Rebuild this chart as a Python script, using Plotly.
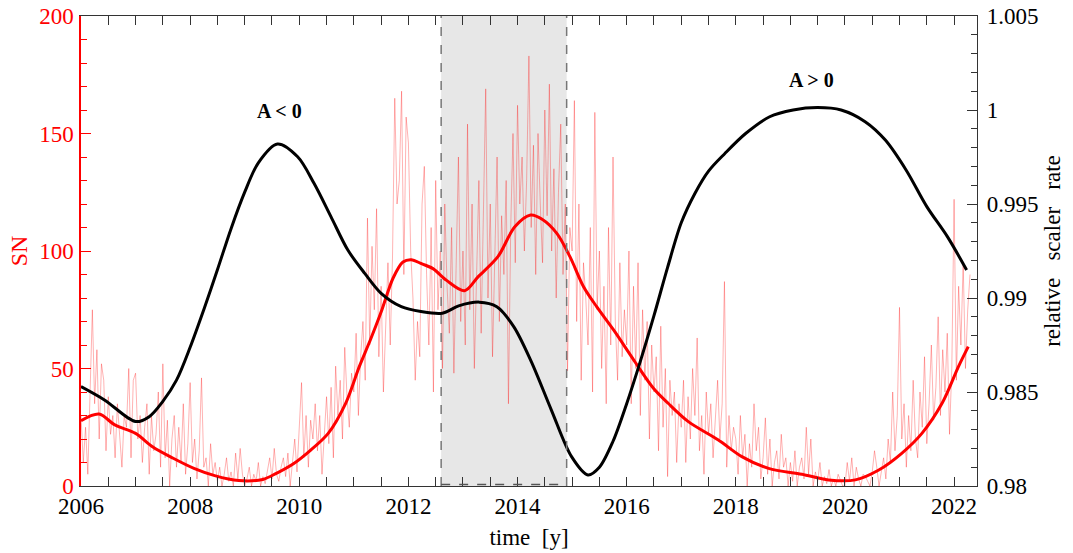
import plotly.graph_objects as go

# ---------------- data ----------------
# noisy sunspot number, 24 samples per year starting at each year's start
sn_2006 = [30, 10, 25, 5, 40, 75, 35, 58, 20, 52, 45, 15, 38, 22, 30, 12, 35, 20, 8, 30, 25, 50, 12, 45]
sn_2007 = [48, 20, 30, 10, 25, 35, 5, 30, 15, 22, 40, 8, 52, 12, 28, 0, 20, 30, 8, 25, 10, 35, 5, 18]
sn_2008 = [44, 10, 20, 3, 15, 46, 8, 12, 0, 18, 5, 10, 2, 8, 0, 5, 12, 2, 6, 0, 14, 3, 16, 5]
sn_2009 = [0, 3, 8, 0, 5, 2, 10, 0, 4, 1, 6, 12, 3, 16, 5, 2, 8, 12, 4, 14, 0, 9, 20, 6]
sn_2010 = [25, 44, 12, 30, 8, 28, 20, 35, 15, 30, 5, 22, 38, 18, 42, 12, 51, 30, 45, 20, 59, 38, 25, 48]
sn_2011 = [40, 65, 30, 55, 70, 45, 114, 60, 102, 75, 118, 55, 85, 40, 70, 95, 60, 97, 165, 120, 130, 168, 90, 157]
sn_2012 = [146, 100, 80, 45, 70, 55, 120, 136, 90, 60, 110, 40, 130, 75, 100, 50, 120, 85, 65, 110, 48, 95, 140, 70]
sn_2013 = [100, 60, 154, 75, 120, 50, 90, 130, 65, 110, 169, 80, 120, 55, 100, 140, 70, 115, 90, 130, 35, 110, 150, 95]
sn_2014 = [162, 120, 140, 100, 130, 183, 110, 145, 90, 150, 120, 95, 160, 115, 171, 100, 135, 80, 125, 154, 90, 120, 49, 110]
sn_2015 = [100, 164, 70, 120, 45, 95, 80, 60, 110, 40, 159, 75, 100, 50, 85, 35, 110, 60, 140, 70, 45, 95, 55, 75]
sn_2016 = [60, 100, 35, 85, 50, 95, 30, 75, 45, 70, 20, 60, 40, 55, 15, 68, 25, 50, 4, 45, 30, 40, 10, 35]
sn_2017 = [25, 45, 10, 38, 20, 50, 30, 63, 15, 30, 5, 40, 22, 35, 12, 28, 45, 20, 35, 87, 8, 30, 15, 25]
sn_2018 = [20, 5, 30, 12, 22, 0, 18, 8, 35, 15, 25, 3, 12, 29, 5, 20, 0, 10, 15, 3, 22, 8, 12, 0]
sn_2019 = [10, 2, 15, 0, 8, 12, 3, 25, 5, 20, 0, 6, 2, 10, 0, 4, 1, 7, 0, 3, 0, 5, 2, 0]
sn_2020 = [0, 10, 2, 12, 0, 8, 3, 0, 5, 4, 2, 0, 6, 15, 8, 0, 6, 12, 3, 20, 10, 40, 15, 30]
sn_2021 = [76, 20, 35, 8, 30, 15, 45, 20, 12, 40, 25, 55, 18, 35, 60, 28, 42, 72, 30, 58, 40, 65, 22, 50]
sn_2022 = [122, 45, 85, 60, 95, 50, 75, 90]
noisy_years = [2006, 2007, 2008, 2009, 2010, 2011, 2012, 2013, 2014,
               2015, 2016, 2017, 2018, 2019, 2020, 2021, 2022]
noisy_blocks = [sn_2006, sn_2007, sn_2008, sn_2009, sn_2010, sn_2011, sn_2012, sn_2013,
                sn_2014, sn_2015, sn_2016, sn_2017, sn_2018, sn_2019, sn_2020, sn_2021, sn_2022]
samples_per_year = 24

# smoothed sunspot number
sn_smooth_t = [2006.0, 2006.33, 2006.62, 2007.0, 2007.31, 2007.69, 2008.07, 2008.45, 2008.89,
               2009.33, 2009.58, 2009.9, 2010.21, 2010.53, 2010.85, 2011.1, 2011.3, 2011.5,
               2011.72, 2011.9, 2012.05, 2012.25, 2012.45, 2012.7, 2013.03, 2013.28, 2013.64,
               2013.95, 2014.24, 2014.45, 2014.72, 2014.96, 2015.21, 2015.45, 2015.76, 2016.13,
               2016.49, 2016.76, 2017.13, 2017.68, 2018.11, 2018.6, 2019.21, 2019.7, 2020.19,
               2020.62, 2021.04, 2021.41, 2021.78, 2022.08, 2022.26]
sn_smooth = [27.8, 30.6, 26.0, 22.4, 16.7, 11.8, 7.5, 4.4, 2.3,
             2.8, 5.4, 9.6, 15.3, 22.4, 35.2, 50.8, 62.0, 74.0,
             88.5, 95.3, 96.3, 94.5, 92.5, 87.5, 83.1, 89.1, 97.6,
             110.3, 115.3, 113.5, 107.5, 97.6, 84.8, 76.3, 66.4, 53.6,
             41.6, 35.2, 27.4, 19.6, 12.5, 7.5, 5.0, 2.6, 2.6,
             6.8, 13.9, 22.4, 35.2, 50.8, 59.3]

# relative scaler rate (smoothed)
rate_t = [2006.0, 2006.43, 2007.0, 2007.25, 2007.5, 2007.75, 2008.0, 2008.25, 2008.5,
          2008.75, 2009.0, 2009.25, 2009.6, 2009.97, 2010.27, 2010.58, 2010.89, 2011.2,
          2011.5, 2011.87, 2012.23, 2012.62, 2012.92, 2013.3, 2013.62, 2013.93, 2014.25,
          2014.62, 2014.99, 2015.29, 2015.5, 2015.75, 2016.0, 2016.25, 2016.5, 2016.75,
          2017.0, 2017.25, 2017.5, 2017.8, 2018.18, 2018.62, 2019.05, 2019.5, 2019.93,
          2020.37, 2020.74, 2021.12, 2021.5, 2021.88, 2022.23]
rate = [0.98529, 0.98458, 0.98343, 0.98369, 0.98450, 0.98563, 0.98738, 0.98938, 0.99150,
        0.99369, 0.99563, 0.99719, 0.99819, 0.99751, 0.99610, 0.99433, 0.99255, 0.99131,
        0.99025, 0.98954, 0.98928, 0.98919, 0.98958, 0.98978, 0.98954, 0.98848, 0.98663,
        0.98404, 0.98156, 0.98059, 0.98100, 0.98238, 0.98438, 0.98663, 0.98906, 0.99163,
        0.99400, 0.99556, 0.99675, 0.99769, 0.99875, 0.99964, 1.00000, 1.00013, 1.00000,
        0.99938, 0.99840, 0.99681, 0.99486, 0.99325, 0.99149]

shade_span = [2012.6, 2014.9]
x_tickvals = [2006, 2008, 2010, 2012, 2014, 2016, 2018, 2020, 2022]
y2_tickvals = [0.98, 0.985, 0.99, 0.995, 1.0, 1.005]
y2_ticktext = ["0.98", "0.985", "0.99", "0.995", "1", "1.005"]
annot_text = ["A < 0", "A > 0"]
annot_x = [2009.63, 2019.38]
annot_y = [159.6, 172.8]

# --------------- build ---------------
noisy_t, noisy_v = [], []
for yr, block in zip(noisy_years, noisy_blocks):
    for i, v in enumerate(block):
        noisy_t.append(yr + i / samples_per_year)
        noisy_v.append(v)

FONT = "Liberation Serif, Times New Roman, Times, serif"
AX = "#333333"
SP = "\u00a0"

fig = go.Figure()
fig.add_trace(go.Scatter(x=noisy_t, y=noisy_v, mode="lines",
                         line=dict(color="rgba(255,0,0,0.30)", width=1),
                         showlegend=False, hoverinfo="skip"))
fig.add_trace(go.Scatter(x=sn_smooth_t, y=sn_smooth, mode="lines",
                         line=dict(color="#ff0000", width=3, shape="spline", smoothing=0.9),
                         showlegend=False))
fig.add_trace(go.Scatter(x=rate_t, y=rate, mode="lines", yaxis="y2",
                         line=dict(color="#000000", width=3, shape="spline", smoothing=0.9),
                         showlegend=False))

# shaded period
fig.add_shape(type="rect", xref="x", yref="paper", x0=shade_span[0], x1=shade_span[1],
              y0=0, y1=1, fillcolor="#e7e7e7", line_width=0, layer="below")
for xv in shade_span:
    fig.add_shape(type="line", xref="x", yref="paper", x0=xv, x1=xv, y0=0, y1=1,
                  line=dict(color="#777777", width=1.5, dash="dash"), layer="above")
fig.add_shape(type="line", xref="x", yref="paper", x0=shade_span[0], x1=shade_span[1],
              y0=0.003, y1=0.003, line=dict(color="#555555", width=1.5, dash="dash"), layer="above")

for txt, ax_, ay_ in zip(annot_text, annot_x, annot_y):
    fig.add_annotation(x=ax_, y=ay_, xref="x", yref="y", text="<b>%s</b>" % txt,
                       showarrow=False, font=dict(family=FONT, size=20, color="black"))

fig.update_layout(
    width=1073, height=553,
    margin=dict(l=81, r=96, t=16, b=67, autoexpand=False),
    paper_bgcolor="white", plot_bgcolor="white",
    font=dict(family=FONT, size=22, color="black"),
    xaxis=dict(range=[2006, 2022.42], tickmode="array", tickvals=x_tickvals,
               automargin=False, ticklabelstandoff=-1,
               ticks="inside", ticklen=9, tickwidth=1, tickcolor=AX,
               showline=True, linecolor=AX, linewidth=1.3, mirror="allticks",
               showgrid=False, zeroline=False,
               tickfont=dict(family=FONT, size=23, color="black"),
               minor=dict(dtick=0.5, tick0=2006, ticks="inside", ticklen=5,
                          tickcolor=AX, showgrid=False),
               title=dict(text="time" + SP * 2 + "[y]",
                          font=dict(family=FONT, size=23, color="black"), standoff=11)),
    yaxis=dict(range=[0, 200], tickmode="linear", tick0=0, dtick=50,
               automargin=False, ticklabelstandoff=1,
               ticks="inside", ticklen=10, tickcolor="#ff0000",
               showline=True, linecolor="#ff0000", linewidth=1.5, mirror=False,
               showgrid=False, zeroline=False,
               tickfont=dict(family=FONT, size=23, color="#ff0000"),
               minor=dict(dtick=10, tick0=0, ticks="inside", ticklen=6,
                          tickcolor="#ff0000", showgrid=False),
               title=dict(text="SN", font=dict(family=FONT, size=24, color="#ff0000"),
                          standoff=5)),
    yaxis2=dict(range=[0.98, 1.005], overlaying="y", side="right",
                automargin=False, ticklabelstandoff=4,
                tickmode="array", tickvals=y2_tickvals, ticktext=y2_ticktext,
                ticks="inside", ticklen=10, tickcolor=AX,
                showline=True, linecolor=AX, linewidth=1.3,
                showgrid=False, zeroline=False,
                tickfont=dict(family=FONT, size=23, color="black"),
                minor=dict(tickmode="linear", dtick=0.001, tick0=0.98, ticks="inside",
                           ticklen=6, tickcolor=AX, showgrid=False),
                title=dict(text="relative" + SP * 3 + "scaler" + SP * 3 + "rate",
                           font=dict(family=FONT, size=23, color="black"), standoff=6)),
)

fig.write_html("out.html", config={"displayModeBar": False},
               post_script="document.body.style.margin='0px';")
